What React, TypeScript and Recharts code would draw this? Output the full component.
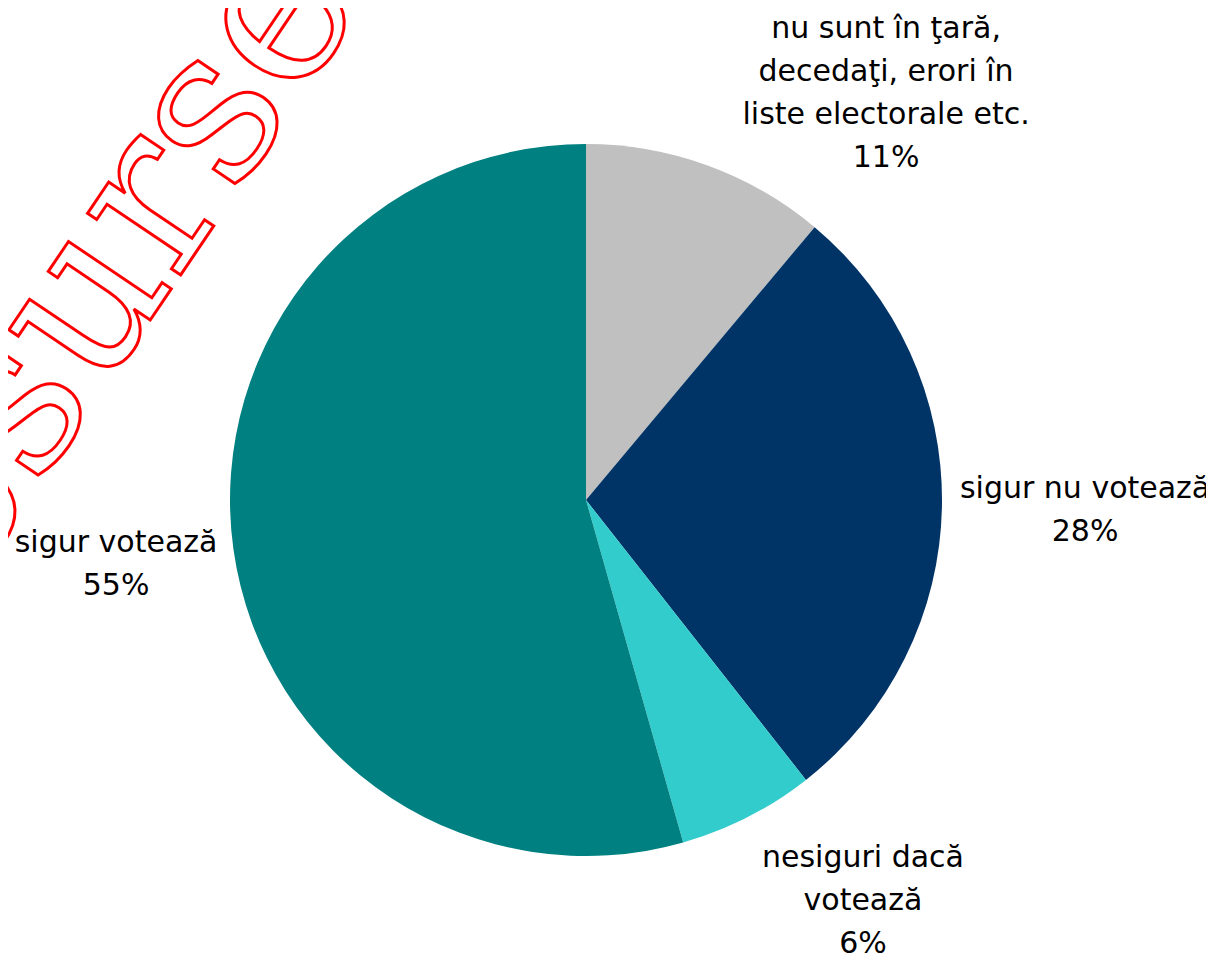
import React from 'react';
import { PieChart, Pie, Cell } from 'recharts';

const categories = [
  'nu sunt în ţară,|decedaţi, erori în|liste electorale etc.',
  'sigur nu votează',
  'nesiguri dacă|votează',
  'sigur votează',
];
// slice sizes
const shares = [11.1, 28.3, 6.2, 54.4];
// percentages as printed in the labels
const pctLabels = ['11%', '28%', '6%', '55%'];
const colors = ['#C0C0C0', '#003366', '#33CCCC', '#008080'];
// label anchor (first baseline), in units of the outer radius, from the pie centre
const labelOffsets = [
  [0.843, -1.298],
  [1.402, -0.006],
  [0.778, 1.031],
  [-1.32, 0.146],
];

const data = categories.map((name, i) => ({ name, value: shares[i], pct: pctLabels[i] }));

const LINE = 43;

const renderLabel = (props: any) => {
  const { cx, cy, outerRadius, index, name } = props;
  const [ox, oy] = labelOffsets[index];
  const x = cx + ox * outerRadius;
  const y = cy + oy * outerRadius;
  const lines = [...String(name).split('|'), data[index].pct];
  return (
    <text
      x={x}
      y={y}
      textAnchor="middle"
      fill="#000"
      fontSize={30}
      fontFamily="'DejaVu Sans', sans-serif"
    >
      {lines.map((l, i) => (
        <tspan key={i} x={x} y={y + i * LINE}>
          {l}
        </tspan>
      ))}
    </text>
  );
};

export default function App() {
  return (
    <div style={{ position: 'relative', width: 1206, height: 955 }}>
      <PieChart width={1206} height={955} margin={{ top: 0, right: 0, bottom: 0, left: 0 }}>
        <Pie
          data={data}
          dataKey="value"
          nameKey="name"
          cx={578}
          cy={492}
          outerRadius={356}
          startAngle={90}
          endAngle={-270}
          stroke="none"
          label={renderLabel}
          labelLine={false}
          isAnimationActive={false}
        >
          {data.map((d, i) => (
            <Cell key={d.name} fill={colors[i]} />
          ))}
        </Pie>
      </PieChart>
      <svg
        width={1206}
        height={955}
        style={{ position: 'absolute', left: 0, top: 0, pointerEvents: 'none', overflow: 'hidden' }}
      >
        <text
          transform="translate(358,-8) rotate(-56)"
          textAnchor="end"
          fontFamily="'DejaVu Serif', serif"
          fontSize={215}
          fill="none"
          stroke="#FF0000"
          strokeWidth={3}
        >
          Resurse
        </text>
      </svg>
    </div>
  );
}
